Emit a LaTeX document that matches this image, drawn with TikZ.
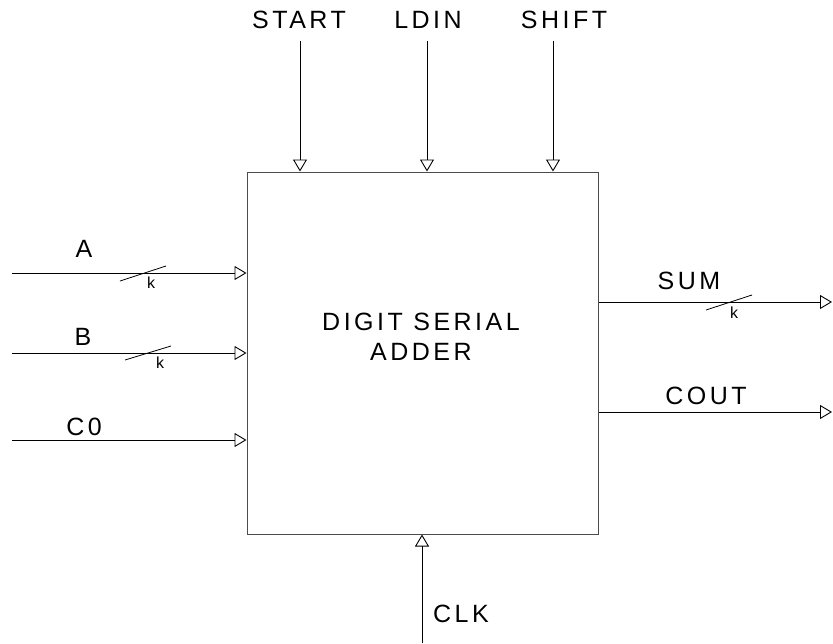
\documentclass[tikz,border=0pt]{standalone}
\usepackage{fontspec}
\setmainfont{Liberation Sans}[LetterSpace=14]
\usetikzlibrary{arrows.meta}
\begin{document}
\begin{tikzpicture}[x=1pt,y=-1pt,
  wire/.style={line width=0.9pt, draw=black, -{Triangle[open,length=12pt,width=14pt,line width=0.9pt]}},
  lbl/.style={inner sep=0pt, font=\fontsize{25}{30}\selectfont},
  klbl/.style={inner sep=0pt, font=\fontsize{16}{18}\selectfont},
  bus/.style={line width=0.8pt, draw=black}]
\useasboundingbox (0,0) rectangle (833,643);
\fill[white] (0,0) rectangle (833,643);

\node[draw=black!70, line width=1pt, minimum width=351pt, minimum height=362pt, inner sep=0pt] (box) at (422.5,353) {};
\node[lbl, align=center] (title) at (421,337) {DIGIT SERIAL\\ADDER};

% top inputs
\coordinate (startIn) at (300,41);
\coordinate (ldinIn) at (427,41);
\coordinate (shiftIn) at (553,41);
\draw[wire] (startIn) -- (startIn |- box.north);
\draw[wire] (ldinIn) -- (ldinIn |- box.north);
\draw[wire] (shiftIn) -- (shiftIn |- box.north);
\node[lbl] (startL) at (299,20) {START};
\node[lbl] (ldinL) at (428,20) {LDIN};
\node[lbl] (shiftL) at (564,20) {SHIFT};

% left inputs
\coordinate (aIn) at (12,273);
\coordinate (bIn) at (12,353);
\coordinate (cIn) at (12,440);
\draw[wire] (aIn) -- (aIn -| box.west);
\draw[wire] (bIn) -- (bIn -| box.west);
\draw[wire] (cIn) -- (cIn -| box.west);
\node[lbl] (aL) at (84,249) {A};
\node[lbl] (bL) at (83,337) {B};
\node[lbl] (cL) at (84,427) {C0};
\draw[bus] (120,281) -- (166,266);
\draw[bus] (125,360) -- (171,346);
\node[klbl] (ka) at (151,283) {k};
\node[klbl] (kb) at (160,363) {k};

% outputs
\coordinate (sumOut) at (832,302);
\coordinate (coutOut) at (832,412);
\draw[wire] (sumOut -| box.east) -- (sumOut);
\draw[wire] (coutOut -| box.east) -- (coutOut);
\node[lbl] (sumL) at (689,281) {SUM};
\node[lbl] (coutL) at (706,396) {COUT};
\draw[bus] (706,310) -- (752,295);
\node[klbl] (ks) at (734,313) {k};

% clock
\coordinate (clkIn) at (422,643);
\draw[wire] (clkIn) -- (clkIn |- box.south);
\node[lbl] (clkL) at (461,614) {CLK};
\end{tikzpicture}
\end{document}
